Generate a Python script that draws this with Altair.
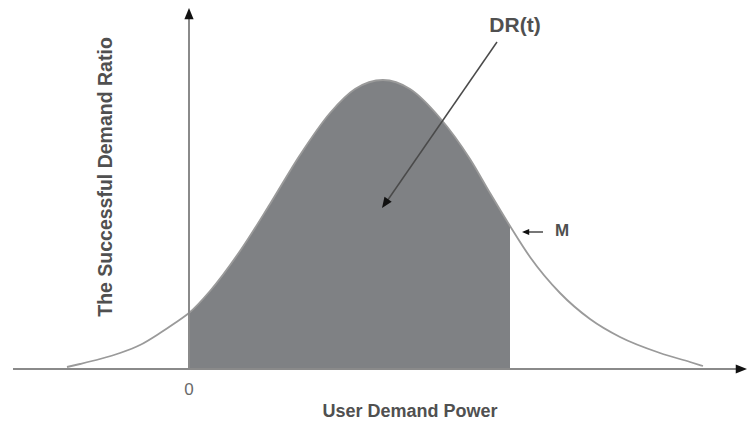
import altair as alt
import pandas as pd

# Bell curve (x: user demand power, y: successful demand ratio)
curve_x = [-1.22, -1.09, -0.89, -0.69, -0.49, -0.29, -0.14, 0.00, 0.21, 0.51, 0.81, 1.11, 1.41, 1.66, 1.94,
           2.21, 2.51, 2.81, 3.01, 3.21, 3.41, 3.71, 4.01, 4.31, 4.71, 5.01, 5.14]
curve_y = [0.02, 0.05, 0.10, 0.16, 0.24, 0.36, 0.46, 0.56, 0.78, 1.18, 1.65, 2.14, 2.56, 2.80, 2.89,
           2.80, 2.51, 2.10, 1.76, 1.43, 1.12, 0.76, 0.50, 0.32, 0.16, 0.07, 0.03]
M_value = 3.21

# Annotation texts
texts = ["DR(t)", "M", "0", "User Demand Power"]
text_x = [3.26, 3.73, 0.00, 2.21]
text_y = [3.43, 1.38, -0.21, -0.43]
text_size = [21, 17, 17, 18]
text_weight = ["bold", "bold", "normal", "bold"]
text_color = ["#505050", "#505050", "#6a6a6a", "#505050"]
ytitle = "The Successful Demand Ratio"

XDOM = [-1.81, 5.58]
YDOM = [-0.53, 3.61]

xs = alt.Scale(domain=XDOM, nice=False, zero=False)
ys = alt.Scale(domain=YDOM, nice=False, zero=False)

df = pd.DataFrame({"x": curve_x, "y": curve_y})
shade = df[(df.x >= 0) & (df.x <= M_value)]

X = alt.X("x:Q", scale=xs, axis=None)
Y = alt.Y("y:Q", scale=ys, axis=None)

area = alt.Chart(shade).mark_area(color="#7f8184", interpolate="monotone", opacity=1).encode(
    x=X, y=Y, y2=alt.datum(0))
line = alt.Chart(df).mark_line(color="#9a9a9a", strokeWidth=1.8, interpolate="monotone").encode(x=X, y=Y)

# axes lines
axes = pd.DataFrame({"x": [-1.76, 0.0], "x2": [5.50, 0.0], "y": [0.0, 0.0], "y2": [0.0, 3.52]})
axis_rules = alt.Chart(axes).mark_rule(color="#8a8a8a", strokeWidth=2).encode(
    x=X, x2="x2:Q", y=Y, y2="y2:Q")

# pointer lines
ptr = pd.DataFrame({"x": [3.08, 3.54], "x2": [1.96, 3.35], "y": [3.27, 1.37], "y2": [1.65, 1.37]})
ptr_rules = alt.Chart(ptr).mark_rule(color="#4a4a4a", strokeWidth=1.5).encode(
    x=X, x2="x2:Q", y=Y, y2="y2:Q")

head_path = "M0,0L0.45,1.1L-0.45,1.1Z"
heads = pd.DataFrame({"x": [0.0, 5.58, 1.93, 3.33], "y": [3.61, 0.0, 1.61, 1.37],
                      "ang": [0, 90, 214.7, 270], "sz": [420, 420, 380, 170]})
head_layers = []
for _, r in heads.iterrows():
    head_layers.append(
        alt.Chart(pd.DataFrame([r])).mark_point(shape=head_path, filled=True, color="#111111", opacity=1,
                                               angle=float(r.ang), size=float(r.sz), strokeWidth=0)
        .encode(x=X, y=Y))

tdf = pd.DataFrame({"x": text_x, "y": text_y, "t": texts, "s": text_size, "c": text_color, "w": text_weight})
text_layers = []
for _, r in tdf.iterrows():
    text_layers.append(
        alt.Chart(pd.DataFrame([r])).mark_text(font="Liberation Sans", fontSize=int(r.s), color=r.c,
                                               fontWeight=r.w, align="center", baseline="middle")
        .encode(x=X, y=Y, text="t:N"))

yt = alt.Chart(pd.DataFrame({"x": [-0.83], "y": [1.92], "t": [ytitle]})).mark_text(
    font="Liberation Sans", fontSize=19.5, color="#505050", angle=270, align="center", baseline="middle",
    fontWeight="bold").encode(x=X, y=Y, text="t:N")

chart = alt.layer(area, line, axis_rules, ptr_rules, *head_layers, *text_layers, yt).properties(
    width=739, height=414, padding=0, autosize=alt.AutoSizeParams(type="none"),
    background="white"
).configure_view(stroke=None)

chart.save("out.html", embed_options={"renderer": "svg", "actions": False})
